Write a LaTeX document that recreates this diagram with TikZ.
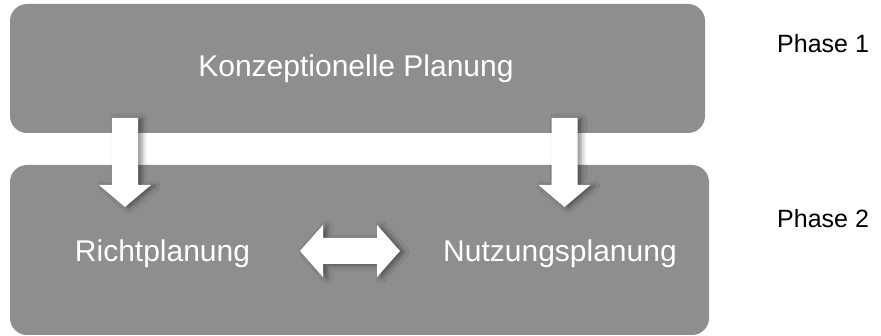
\documentclass[tikz,border=0pt]{standalone}
\usepackage{fontspec}
\setmainfont{Liberation Sans}
\usepackage{xcolor}
\definecolor{phgray}{RGB}{142,142,142}
\usepackage{tikz}
\usetikzlibrary{shadows.blur}

\tikzset{
  phasebox/.style={fill=phgray, rounded corners=17pt},
  blockarrow/.style={fill=white, blur shadow={shadow xshift=4pt, shadow yshift=-1pt, shadow blur radius=5pt, shadow opacity=45}},
  boxtext/.style={font=\fontsize{30}{36}\selectfont, text=white, anchor=base, inner sep=0pt},
  phasetext/.style={font=\fontsize{25}{30}\selectfont, text=black, anchor=base west, inner sep=0pt}
}

\begin{document}
\begin{tikzpicture}[x=1pt, y=-1pt]
  \useasboundingbox (0,0) rectangle (881,336);

  % Phase panels
  \path[phasebox] (10,4) rectangle (705,133);
  \path[phasebox] (10,165) rectangle (709,335);

  % --- Phase 1 ---
  \node[boxtext] (konz) at (356,77) {Konzeptionelle Planung};
  \node[phasetext] (phase1) at (777,53) {Phase 1};

  % --- Phase 2 ---
  \node[boxtext] (richt) at (162.5,262) {Richtplanung};
  \node[boxtext] (nutz) at (560,262) {Nutzungsplanung};
  \node[phasetext] (phase2) at (777,228) {Phase 2};

  % Down arrows from phase 1 into phase 2
  \fill[blockarrow] (112,118) -- (138,118) -- (138,185) -- (151,185) -- (125,207)
    -- (99,185) -- (112,185) -- cycle;
  \fill[blockarrow] (551.5,118) -- (577.5,118) -- (577.5,185) -- (590.5,185) -- (564.5,207)
    -- (538.5,185) -- (551.5,185) -- cycle;

  % Double arrow between Richtplanung and Nutzungsplanung
  \fill[blockarrow] (300,251) -- (323,225) -- (323,238) -- (377,238) -- (377,225) -- (400,251)
    -- (377,277) -- (377,264) -- (323,264) -- (323,277) -- cycle;
\end{tikzpicture}
\end{document}
